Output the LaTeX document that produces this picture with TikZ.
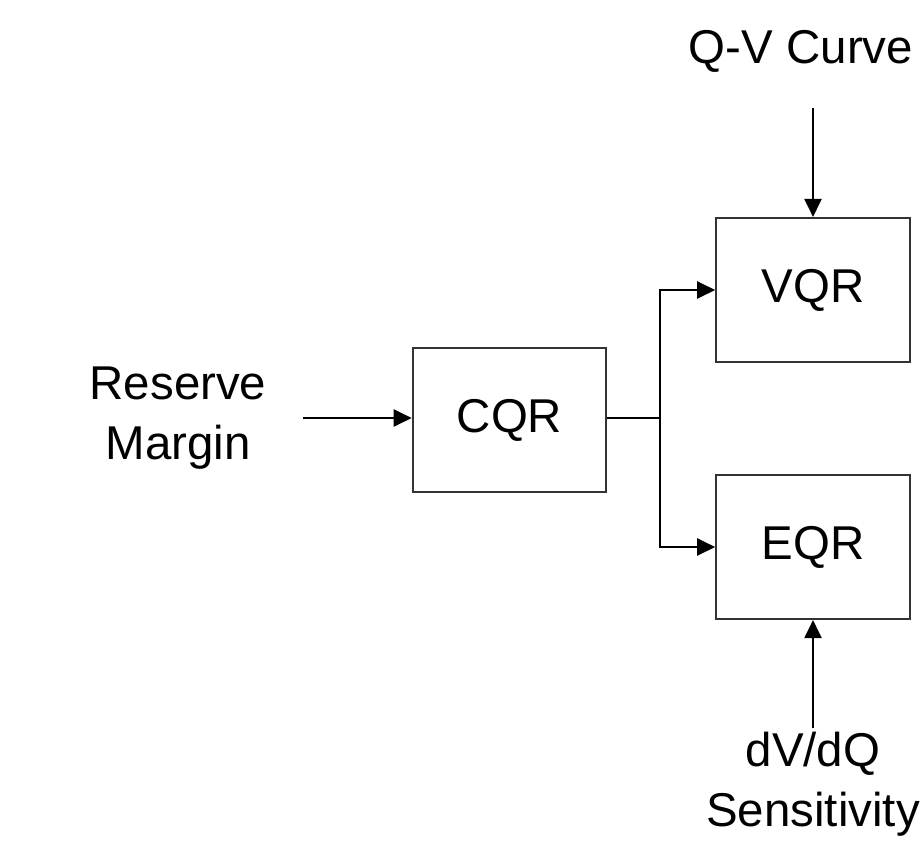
\documentclass[tikz,border=0pt]{standalone}
\usepackage{fontspec}
\setmainfont{Liberation Sans}
\usetikzlibrary{arrows.meta,positioning}

\begin{document}
\begin{tikzpicture}[
  block/.style={draw=black!80,line width=1.2pt,minimum width=3.87cm,minimum height=2.88cm,inner sep=0pt,font=\fontsize{27}{34}\selectfont},
  label text/.style={align=center,inner sep=0pt,font=\fontsize{27}{34}\selectfont},
  sig/.style={-{Triangle[length=3.6mm,width=3.4mm]},line width=1.2pt,black}
]
\useasboundingbox (0,0) rectangle (18.42,-17.14);
\node[block] (cqr) at (10.19,-8.40) {CQR};
\node[block] (vqr) at (16.26,-5.80) {VQR};
\node[block] (eqr) at (16.26,-10.94) {EQR};
\node[label text] (rm) at (3.56,-8.36) {Reserve\\Margin};
\node[label text] (qv) at (16.02,-1.02) {Q-V Curve};
\node[label text] (sens) at (16.26,-15.68) {dV/dQ\\Sensitivity};
\coordinate (rmend) at (6.06,-8.36);
\coordinate (qvend) at (16.26,-2.16);
\coordinate (sensend) at (16.26,-14.56);
\coordinate (split) at (13.2,-8.36);
% inputs
\draw[sig] (rmend) -- (cqr.west|-rmend);
\draw[sig] (qvend) -- (vqr.north);
\draw[sig] (sensend) -- (eqr.south);
% CQR feeds both
\draw[line width=1.2pt] (cqr.east|-split) -- (split);
\draw[sig] (split) |- (vqr.west);
\draw[sig] (split) |- (eqr.west);
\end{tikzpicture}
\end{document}
